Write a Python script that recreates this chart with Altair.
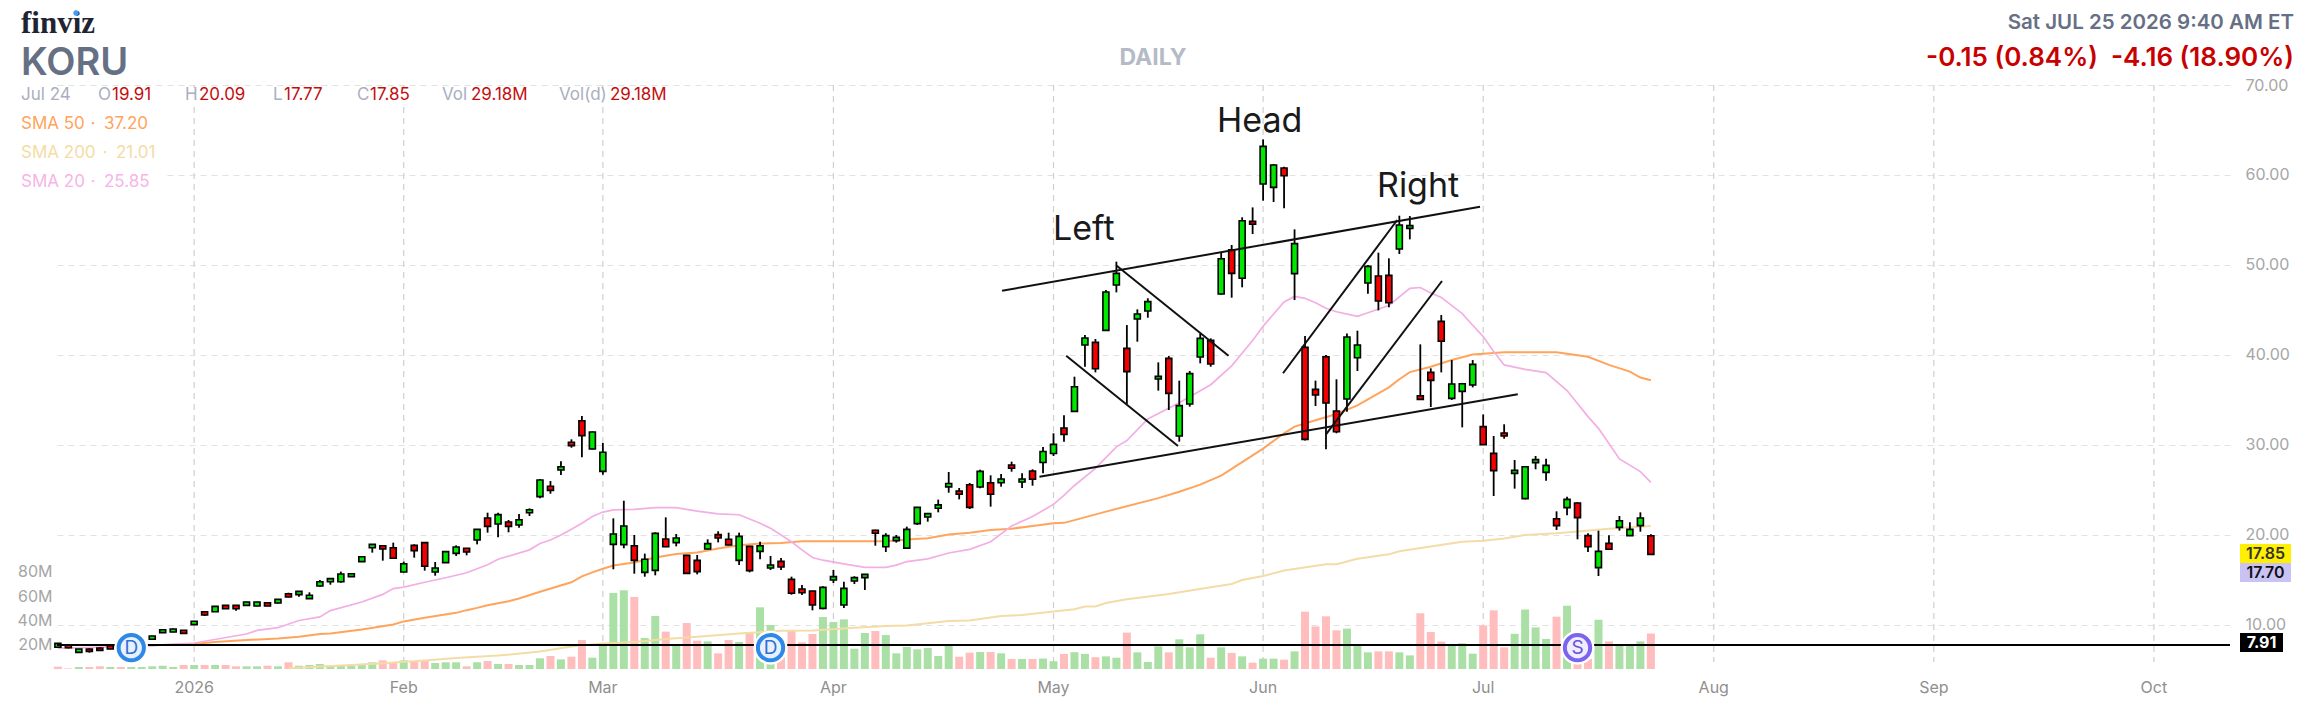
import altair as alt
import pandas as pd

FONT = "Inter"

OPEN = [7.52,7.77,6.96,7.33,7.44,7.7,7.4,7.7,7.9,8.41,9.15,9.22,9.41,10.04,11.48,11.48,12.18,12.18,12.18,12.11,12.48,12.44,13.48,13.37,12.93,14.33,14.81,14.81,15.37,17.04,18.59,18.81,18.59,15.89,18.85,19.15,15.89,16.93,17.96,18.52,19.44,21.89,21.22,21.44,21.11,22.48,24.26,25.41,27.22,30.3,32.7,29.56,27.07,18.96,18.93,18.81,15.85,16.07,19.56,19.15,17.74,17.18,18.44,20.04,19.52,17.18,18.74,18.18,16.33,17.07,15.07,14,13.78,11.85,15,12.22,14.89,15.26,20.52,18.7,19.37,18.54,21.26,22,22.98,25.35,24.89,25.59,25.33,25.81,25.81,27.78,25.89,27.11,28.05,29.05,31.87,33.74,41.11,41.4,42.74,47.78,40.74,44,44.89,37.33,39.63,31,34.55,39.78,41.63,46.78,51.7,48.52,54.85,59,58.63,60.78,49.04,40.85,36.18,39.81,33.78,35.11,39.7,48,48.78,48.85,51.78,54.07,35.48,38.07,43.74,35.18,35.96,36.67,32.04,29.07,31.33,26.85,24.04,28.04,26.96,21.81,23.04,23.56,19.93,16.37,19.07,20.85,19.93,21.04,19.91]
HIGH = [8.0,7.85,7.35,7.4,7.5,7.75,7.9,8.2,8.4,8.8,9.5,9.6,9.45,10.45,11.5,12.1,12.2,12.2,12.58,12.58,12.5,12.88,13.59,13.76,13.63,15,15.18,15.93,15.72,17.62,19,18.85,19.15,17.04,18.96,19.18,17,18.18,18.85,18.55,20.66,22.48,22.48,21.67,22.33,22.96,26.22,26,28.19,30.63,33.22,31.5,30.22,21.85,23.81,20,17.93,20.3,21.96,20.11,17.8,17.78,19.52,20.41,20.26,20.26,18.8,19.26,17.67,17.44,15.37,14.44,13.8,14.3,16.11,14.81,15.41,15.65,20.6,20.2,20,20.93,23.1,22.45,23.93,27,25.22,25.78,27.26,26.63,26.78,28.15,26.85,27.3,29.78,31.3,33.3,37.59,42.22,41.78,47.22,50.37,43.33,45.07,46.3,39.18,39.89,37.15,38.22,42.4,41.85,51.37,52.22,55.3,56.4,63.96,61.22,60.93,53.96,42.11,37.15,40,37.3,42.4,42.7,50,51.37,50.74,55.48,55.44,41.18,38.52,44.44,39.44,36.9,39.44,33.4,31,32.3,28.33,27.65,28.78,28.48,22.63,24.26,23.63,20.19,20.48,19.96,22.11,21.41,22.52,20.09]
LOW = [7.45,7.4,6.9,6.93,7.15,7.3,7.35,7.65,7.85,8.35,9.1,9.2,9.05,10.0,11.0,11.45,11.8,11.59,12.15,12.08,12.08,12.4,13.08,13.15,12.9,14.26,14.48,14.7,15.35,17.0,18.04,17.15,17.38,15.85,17.48,16.04,15.48,16.9,17.67,17.74,18.96,20.26,19.74,20.3,20.81,22.11,24.07,24.59,26.67,29.7,28.63,29.5,26.7,16.19,18.52,15.7,15.37,15.52,18.65,18.74,15.7,15.63,18.4,19.18,18.85,16.67,15.85,17.3,16.11,16.11,13.37,13.33,11.63,11.74,14.67,11.89,14.56,13.89,18.81,18.11,19.15,18.48,21.11,21.48,22.52,24.7,23.96,22.89,25.19,23.15,25.37,27.04,25.22,25.48,26.85,28.78,30.37,33.7,38.7,38.07,42.7,46.96,34.55,41.48,44.14,36.04,33.89,30.37,34.26,39.07,38.7,46.7,46.37,47.52,53.44,57.15,57,56.3,46.11,30.5,34.33,29.52,31.3,33.7,38.22,46.81,44.96,45.3,51.22,52.85,35.05,34.22,38.07,35,31.96,36.4,30,24.33,30.7,25.15,23.96,27.3,26.04,20.56,22.19,19.52,18.11,15.44,18.37,20.48,19.89,20.37,17.77]
CLOSE = [7.96,7.48,7.33,7.07,7.18,7.33,7.8,8.1,8.3,8.78,9.48,9.55,9.07,10.41,11.11,12.07,11.81,11.81,12.55,12.55,12.11,12.85,13.11,13.74,13.3,14.81,15.15,15.67,15.7,17.59,18.96,18.44,17.41,16.81,18.26,16.52,16.33,18.15,18.67,18.11,20.63,20.96,22.26,20.96,21.7,22.81,26.11,24.96,27.59,29.93,31.04,31.44,29.19,20.11,21,17.18,17.3,20.18,18.7,19.67,15.74,15.93,19.04,19.67,18.89,19.85,16.04,18.81,16.67,16.44,13.52,13.59,12.22,14.18,15.37,14.07,15.26,15.63,20.19,19.93,19.74,20.63,23.07,22.38,23.35,25.72,24.52,23.07,27.07,24.52,26.22,27.41,26.22,26.19,29.27,30.07,31.17,36.48,41.89,38.48,47,49.07,38.15,44.55,45.93,37.63,35.74,34.37,37.93,41.85,39,50.7,49.07,54.92,54.52,63.18,61.11,59.92,52.37,30.63,35.55,34.66,31.48,42,41.11,49.85,46,45.81,54.44,54.37,35.07,37.18,41.52,36.78,36.81,38.96,30.04,27.15,31,27.18,27.59,28.37,27.74,21.04,23.96,21.93,18.7,18.18,18.41,21.59,20.63,21.89,17.85]
VOLUME = [1.9,0.5,1.6,1.6,2.2,1.6,1.6,1.6,1.6,2.2,2.7,1.6,3.3,3.3,3.3,3.3,3.3,2.2,2.2,2.2,2.7,2.2,5.5,2.7,3.3,4.1,2.7,3.3,2.5,3.3,5.5,7.1,5.8,7.1,6,7.1,4.9,5.5,5.5,2.2,5.5,6.6,4.1,4.1,3.3,3.3,8.8,10.7,7.9,10.1,23.8,9.3,20.5,62.5,64.7,59.2,25.5,43.6,30.7,19.5,37.8,23.3,22.7,12.9,23.8,22.2,30.1,50.7,36.2,15,31.2,21.9,28.8,42.7,38.6,40.8,16.7,29.6,31.2,27.9,12.9,18.1,16.2,17.3,10.7,19.2,10.1,13.4,14,14,12.9,8.2,8.2,8.2,8.6,6.4,12.4,13.8,12.4,9.7,10.4,9.3,29.9,13.7,5.8,18.6,13.7,24.4,17.8,28.5,9.3,17.8,13.2,10.4,5.2,8.5,8.5,7.7,14.5,47.1,35,43.3,31.8,33.2,20.3,13.7,14.5,14.5,13.7,11.2,45.8,30.4,22.5,19.5,21.1,12.6,35.8,48.2,17.8,28.9,48.9,34.2,24.7,43,52,20,8.2,40.5,22.7,20.5,19.2,22.7,29.18]
VOL_DIR = "DDUDDUDUUU" "UUDUDUDDUU" "DUDUUUUUUU" "UDDUDDUUUD" "UDUDUUUDUD" "DUUUUDUUDU" "DDUDDUDUUD" "DDDUUUUUDU" "UUUUUUDDUD" "UDUDUUDUUD" "UUDUUUDUUU" "DUDUDUUDUD" "DDDUUUDDUU" "DDDUUUDDDU" "UUUDUDDUDU" "UUD"

SMA20_IDX = [0,9,13,18,19,21,23,25,26,29,31,32,33,35,37,39,41,42,45,46,47,48,49,50,51,52,53,55,57,59,61,63,65,67,68,70,71,72,73,75,77,79,80,81,83,85,87,89,91,93,95,96,97,99,101,102,104,107,110,112,114,115,117,118,119,120,121,122,124,125,127,129,130,131,132,134,135,136,137,138,140,142,144,146,147,149,151,152]
SMA20 = [7.4,7.7,8.0,9.0,9.4,9.7,10.5,10.9,11.6,12.55,13.4,14.05,14.2,14.75,15.25,15.8,16.7,17.3,18.35,19.05,19.45,20,20.65,21.3,22.05,22.55,22.8,22.85,23.05,23.05,22.65,22.35,22.25,21.3,20.75,19.25,18.35,17.5,17.2,16.8,16.4,16.4,16.65,17.05,17.35,18,18.4,19.25,21.0,22.05,23.4,24.4,25.5,27.4,29.8,30.5,32.9,34.7,36.7,38.8,41.6,43.2,45.9,46.5,46.3,45.8,45.2,44.8,44.3,44.7,45.5,47.4,47.5,46.9,46.4,44.6,43.3,42.05,40.4,38.9,38.4,38.05,36.05,33.15,31.85,28.45,27.05,25.85]
SMA50_IDX = [5,9,13,15,18,21,23,25,26,29,32,33,35,38,39,40,41,43,44,46,49,50,51,52,53,55,57,59,61,63,65,67,69,71,79,81,83,85,87,89,91,93,95,96,97,100,105,107,109,111,115,117,118,120,122,124,127,128,129,131,133,135,138,143,146,148,150,151,152]
SMA50 = [7.6,7.75,7.9,8.1,8.33,8.5,8.7,9,9.05,9.5,10.05,10.4,10.8,11.35,11.65,11.9,12.2,12.65,12.95,13.7,14.75,15.4,15.85,16.25,16.6,16.95,17.5,17.9,18.05,18.5,18.85,19.05,19.1,19.3,19.3,19.5,19.65,20.05,20.25,20.55,20.7,21,21.3,21.35,21.65,22.6,24.1,24.8,25.6,26.6,29.6,31.3,32.05,32.75,33.45,34.4,36.4,37.3,38.1,38.7,39.45,40.05,40.3,40.3,39.8,38.9,38.15,37.5,37.2]
SMA200_IDX = [22,28,31,35,38,42,46,49,52,55,58,61,65,69,72,76,79,81,85,87,90,92,95,97,98,99,100,102,106,110,112,113,115,117,121,122,124,127,128,134,136,138,140,143,145,148,152]
SMA200 = [5.2,5.55,5.75,6.05,6.33,6.6,7.05,7.6,7.95,8.1,8.45,8.7,9.05,9.35,9.4,9.7,9.9,9.95,10.45,10.5,11,11.1,11.5,11.75,12.05,12.05,12.45,12.85,13.45,14.2,14.55,15,15.45,16.05,16.75,16.75,17.35,17.85,18.2,19.25,19.35,19.6,20,20.2,20.4,20.7,21.01]

TREND_I0 = [90.09,93.66,96.21,101.03,116.9,121.0]
TREND_P0 = [47.14,26.48,39.92,49.92,37.97,31.19]
TREND_I1 = [135.7,139.3,106.88,111.7,127.8,132.07]
TREND_P1 = [56.48,35.63,29.89,39.92,55.0,48.22]

TICK_IDX = [13,33,52,74,95,115,136,158,179,200]
TICK_LAB = ["2026","Feb","Mar","Apr","May","Jun","Jul","Aug","Sep","Oct"]
PRICE_TICKS = [10,20,30,40,50,60,70]
VOL_TICKS = [20,40,60,80]
SIGNAL_IDX = [7,68,145]
SIGNAL_LAB = ["D","D","S"]
SIGNAL_LEVEL = 7.48
SUPPORT_LEVEL = 7.78

W, H = 2173, 584
X = alt.Scale(domain=[-0.086, 207.26], nice=False, zero=False, padding=0)
Y = alt.Scale(domain=[5.111, 70], nice=False, zero=False)
V = alt.Scale(domain=[0, 480], nice=False, zero=True)

bars = pd.DataFrame({"i": range(len(OPEN)), "o": OPEN, "h": HIGH, "l": LOW, "c": CLOSE,
                     "v": VOLUME, "dir": list(VOL_DIR)})
bars["up"] = bars.c > bars.o
base = alt.Chart(bars)
xq = alt.X("i:Q", scale=X, axis=None)

vol = base.mark_bar(size=8).encode(
    x=xq,
    y=alt.Y("v:Q", scale=V, title=None,
            axis=alt.Axis(orient="left", values=VOL_TICKS, labelExpr="datum.value + 'M'", grid=False, domain=False,
                          ticks=False, labelPadding=5, labelFont=FONT, labelFontSize=16, labelColor="#a6a6a6")),
    color=alt.Color("dir:N", scale=alt.Scale(domain=["U", "D"], range=["#aae0a5", "#ffbdbd"]), legend=None),
)

ticks = pd.DataFrame({"i": TICK_IDX, "lab": TICK_LAB, "top": 70.0, "bot": 5.89})
vgrid = alt.Chart(ticks).mark_rule(stroke="#cfcfcf", strokeWidth=1.2, strokeDash=[6, 5]).encode(
    x=xq, y=alt.Y("top:Q", scale=Y, axis=None), y2="bot:Q")
xlabels = alt.Chart(ticks).mark_text(font=FONT, fontSize=16, color="#8f8f8f", baseline="middle", align="center").encode(
    x=xq, y=alt.value(688 - 85), text="lab:N")

hgrid = alt.Chart(pd.DataFrame({"p": PRICE_TICKS})).mark_rule(opacity=0).encode(
    y=alt.Y("p:Q", scale=Y, title=None,
            axis=alt.Axis(orient="right", values=PRICE_TICKS, format=".2f", grid=True, gridColor="#e2e2e2",
                          gridWidth=1.2, gridDash=[6, 5], domain=False, ticks=False, labelPadding=15,
                          labelFont=FONT, labelFontSize=16, labelColor="#a6a6a6")))


def sma(idx, vals, color, w=2.0):
    return alt.Chart(pd.DataFrame({"i": idx, "p": vals})).mark_line(color=color, strokeWidth=w).encode(
        x=xq, y=alt.Y("p:Q", scale=Y, axis=None))


wick = base.mark_rule(color="#000000", strokeWidth=1.8).encode(
    x=xq, y=alt.Y("l:Q", scale=Y, axis=None), y2="h:Q")
body = base.mark_bar(size=6, stroke="#000000", strokeWidth=1.6).encode(
    x=xq, y=alt.Y("o:Q", scale=Y, axis=None), y2="c:Q",
    color=alt.Color("up:N", scale=alt.Scale(domain=[True, False], range=["#00e800", "#f50000"]), legend=None))

trend = alt.Chart(pd.DataFrame({"a": TREND_I0, "b": TREND_I1, "p": TREND_P0, "q": TREND_P1})).mark_rule(
    color="#111111", strokeWidth=2).encode(
    x=alt.X("a:Q", scale=X, axis=None), x2="b:Q", y=alt.Y("p:Q", scale=Y, axis=None), y2="q:Q")

support = alt.Chart(pd.DataFrame({"p": [SUPPORT_LEVEL]})).mark_rule(color="#000000", strokeWidth=2).encode(
    y=alt.Y("p:Q", scale=Y, axis=None))

sig = pd.DataFrame({"i": SIGNAL_IDX, "t": SIGNAL_LAB, "p": SIGNAL_LEVEL})
sig_y = alt.Y("p:Q", scale=Y, axis=None)
halo = alt.Chart(sig).mark_point(filled=True, size=1150, color="#ffffff", opacity=1, shape="circle").encode(x=xq, y=sig_y)
ring = alt.Chart(sig).mark_point(filled=True, size=640, opacity=1, shape="circle", strokeWidth=4).encode(
    x=xq, y=sig_y,
    fill=alt.Fill("t:N", scale=alt.Scale(domain=["D", "S"], range=["#e7f1fd", "#efedfe"]), legend=None),
    stroke=alt.Stroke("t:N", scale=alt.Scale(domain=["D", "S"], range=["#2f88e6", "#7c64ee"]), legend=None))
letters = alt.Chart(sig).mark_text(font=FONT, fontSize=19, baseline="middle", align="center").encode(
    x=xq, y=sig_y, text="t:N",
    color=alt.Color("t:N", scale=alt.Scale(domain=["D", "S"], range=["#2f6fd6", "#6a50e0"]), legend=None))

ONE = alt.Data(values=[{"k": 1}])
OX, OY = 57, 85


def box(x0, x1, y0, y1, fill):
    return alt.Chart(ONE).mark_rect(color=fill).encode(
        x=alt.value(x0 - OX), x2=alt.value(x1 - OX), y=alt.value(y0 - OY), y2=alt.value(y1 - OY))


def txt(x, y, s, size, color, weight="normal", align="left", base_line="middle", font=FONT):
    return alt.Chart(ONE).mark_text(text=s, fontSize=size, color=color, fontWeight=weight, align=align,
                                    baseline=base_line, font=font).encode(
        x=alt.value(x - OX), y=alt.value(y - OY))


GREY = "#a9afbf"
RED = "#c40e0e"
ORANGE_T, TAN_T, PINK_T = "#ffa45c", "#f3dca5", "#f5b5e6"
head = [
    box(15, 680, 88, 104, "#ffffff"),
    box(15, 163, 108, 195, "#ffffff"),
    txt(21, 33, "finviz", 31, "#1f2433", "bold", base_line="alphabetic", font="Liberation Serif"),
    alt.Chart(ONE).mark_point(filled=True, size=28, color="#3f9bf5", opacity=1, shape="circle").encode(
        x=alt.value(76 - OX), y=alt.value(13 - OY)),
    txt(21, 75, "KORU", 38, "#667085", 600, base_line="alphabetic"),
    txt(1153, 58, "DAILY", 23, "#b4bac6", "bold", "center"),
    txt(2294, 23, "Sat JUL 25 2026 9:40 AM ET", 20.5, "#667085", 600, "right"),
    txt(2098, 58, "-0.15 (0.84%)", 26, "#c80000", 600, "right"),
    txt(2294, 58, "-4.16 (18.90%)", 26, "#c80000", 600, "right"),
    txt(21, 95, "Jul 24", 17, GREY),
    txt(98, 95, "O", 17, GREY), txt(112, 95, "19.91", 17, RED),
    txt(185, 95, "H", 17, GREY), txt(199, 95, "20.09", 17, RED),
    txt(273, 95, "L", 17, GREY), txt(284, 95, "17.77", 17, RED),
    txt(357, 95, "C", 17, GREY), txt(370, 95, "17.85", 17, RED),
    txt(442, 95, "Vol", 17, GREY), txt(471, 95, "29.18M", 17, RED),
    txt(559, 95, "Vol(d)", 17, GREY), txt(610, 95, "29.18M", 17, RED),
    txt(21, 124, "SMA 50", 17, ORANGE_T), txt(93, 124, "·", 17, ORANGE_T, align="center"), txt(104, 124, "37.20", 17, ORANGE_T),
    txt(21, 153, "SMA 200", 17, TAN_T), txt(105, 153, "·", 17, TAN_T, align="center"), txt(116, 153, "21.01", 17, TAN_T),
    txt(21, 182, "SMA 20", 17, PINK_T), txt(93, 182, "·", 17, PINK_T, align="center"), txt(104, 182, "25.85", 17, PINK_T),
    txt(1053, 240, "Left", 34, "#1a1a1a", base_line="alphabetic"),
    txt(1217, 132, "Head", 34, "#1a1a1a", base_line="alphabetic"),
    txt(1377, 197, "Right", 34, "#1a1a1a", base_line="alphabetic"),
    box(2240, 2291, 544, 563, "#fff000"),
    box(2240, 2291, 563, 582, "#c9c3f5"),
    box(2240, 2283, 633, 652, "#000000"),
    txt(2265.5, 553.5, "17.85", 16, "#333333", 600, "center"),
    txt(2265.5, 572.5, "17.70", 16, "#111111", 600, "center"),
    txt(2261.5, 642.5, "7.91", 16, "#ffffff", 700, "center"),
]

chart = alt.layer(
    vgrid, xlabels, hgrid, vol,
    sma(SMA200_IDX, SMA200, "#f3dca5"),
    sma(SMA50_IDX, SMA50, "#ffa45c"),
    sma(SMA20_IDX, SMA20, "#f3aee3", 1.7),
    wick, body, trend, support, halo, ring, letters, *head,
).resolve_scale(y="independent", color="independent", fill="independent", stroke="independent").properties(
    width=W, height=H,
    background="#ffffff",
    autosize=alt.AutoSizeParams(type="none"),
    padding={"left": 49, "top": 77, "right": 78, "bottom": 40},
).configure_view(stroke=None)

chart.save("out.html", embed_options={"renderer": "svg", "actions": False})
